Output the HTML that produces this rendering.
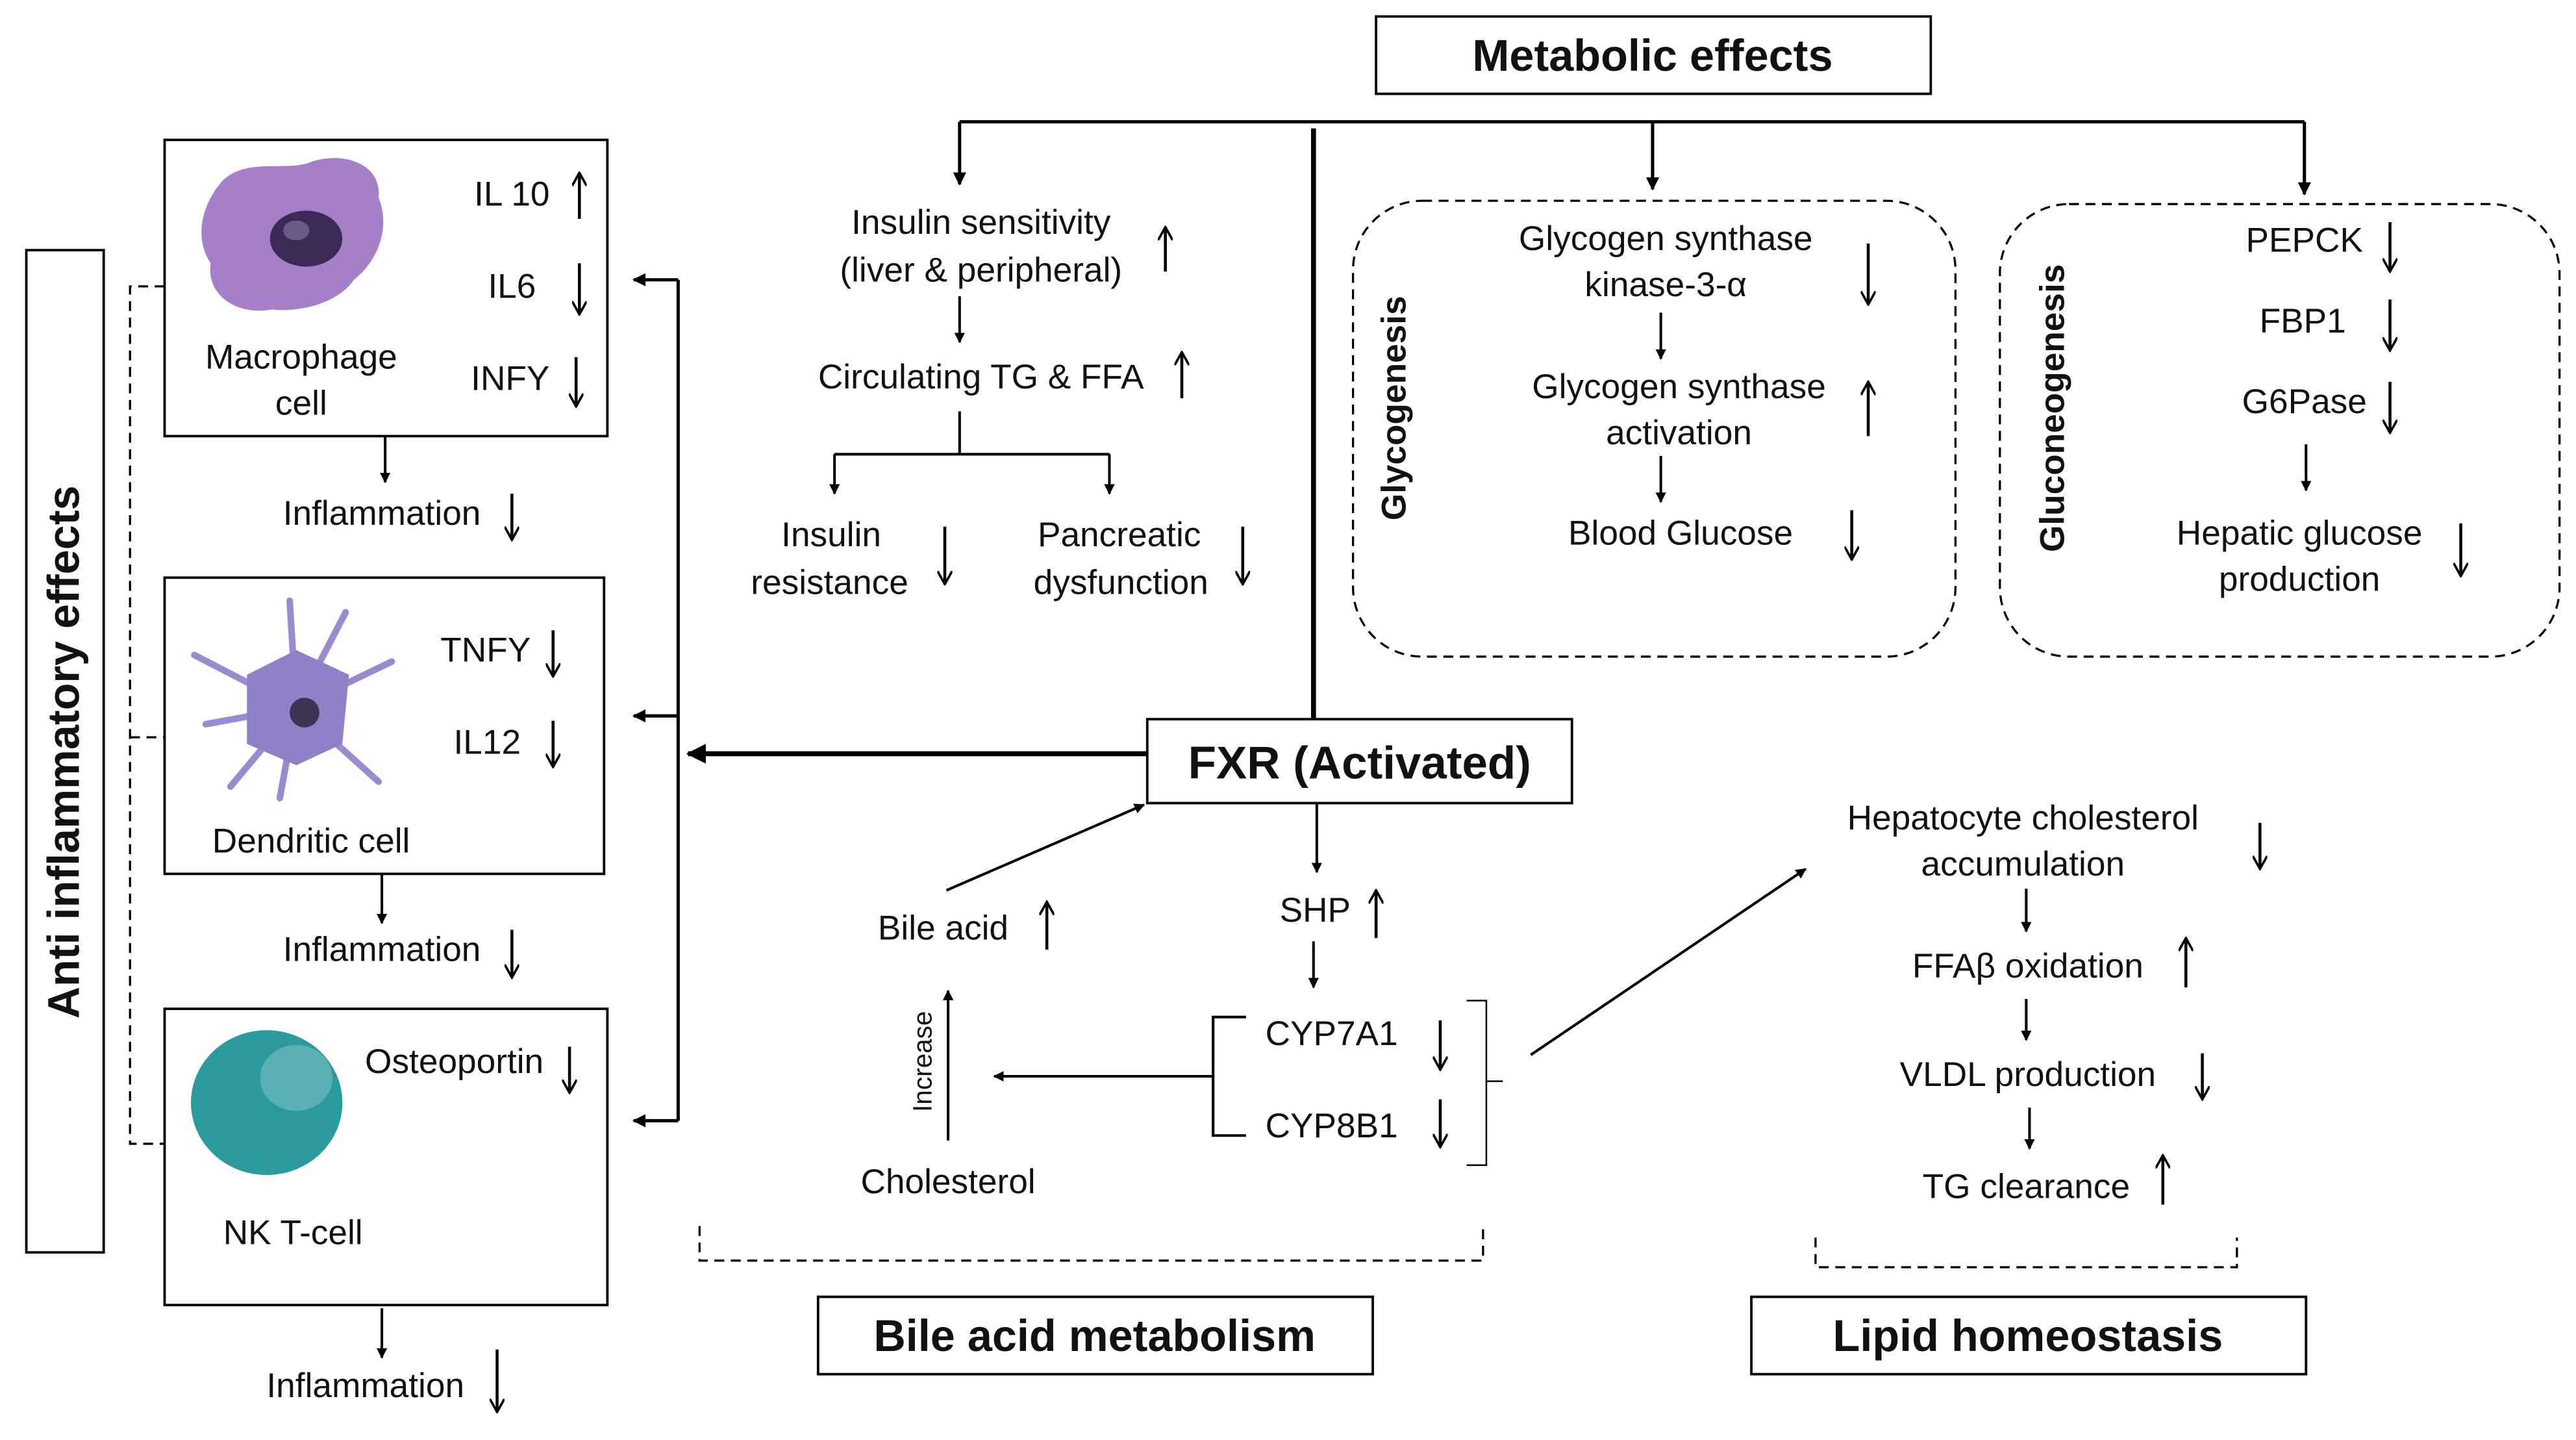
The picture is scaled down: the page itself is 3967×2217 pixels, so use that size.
<!DOCTYPE html>
<html><head><meta charset="utf-8"><style>html,body{margin:0;padding:0;background:#fff;}svg{display:block}</style></head>
<body>
<svg width="3967" height="2217" viewBox="0 0 1565 875" preserveAspectRatio="none" xmlns="http://www.w3.org/2000/svg" font-family="'Liberation Sans', sans-serif">
<defs>
<marker id="a" viewBox="0 0 10 10" refX="9" refY="5" markerWidth="4" markerHeight="4" orient="auto-start-reverse"><path d="M0,0 L10,5 L0,10 z" fill="#000"/></marker>
<marker id="v" viewBox="0 0 10 10" refX="9" refY="5" markerWidth="5" markerHeight="5" orient="auto"><path d="M0,0 L9,5 L0,10" fill="none" stroke="#000" stroke-width="1.6"/></marker>
</defs>
<rect width="1565" height="875" fill="#fff"/>
<g fill="none" stroke="#000" stroke-width="1.5">
<!-- top boxes -->
<rect x="836" y="10" width="337" height="47"/>
<rect x="697" y="437" width="258" height="51"/>
<rect x="497" y="788" width="337" height="47"/>
<rect x="1064" y="788" width="337" height="47"/>
<rect x="16" y="152" width="47" height="609"/>
<rect x="100" y="85" width="269" height="180"/>
<rect x="100" y="351" width="267" height="180"/>
<rect x="100" y="613" width="269" height="180"/>
</g>
<g fill="none" stroke="#000" stroke-width="1.3" stroke-dasharray="6,4">
<rect x="822" y="122" width="366" height="277" rx="42"/>
<rect x="1215" y="124" width="340" height="275" rx="42"/>
<path d="M100,174 H79 V695 H100 M79,448 H100"/>
<path d="M425,745 V766 H901 V745"/>
<path d="M1103,752 V770 H1359 V752"/>
</g>
<!-- connectors -->
<g fill="none" stroke="#000" stroke-width="2">
<path d="M583,74 H1400"/>
<path d="M798,78 V437" stroke-width="3"/>
<path d="M583,74 V112" marker-end="url(#a)"/>
<path d="M1004,74 V115" marker-end="url(#a)"/>
<path d="M1400,74 V118" marker-end="url(#a)"/>
<path d="M697,458 H418" stroke-width="3" marker-end="url(#a)"/>
<path d="M412,170 V681"/>
<path d="M412,170 H385" marker-end="url(#a)"/>
<path d="M412,435 H385" marker-end="url(#a)"/>
<path d="M412,681 H385" marker-end="url(#a)"/>
</g>
<g fill="none" stroke="#000" stroke-width="1.6">
<path d="M583,180 V208" marker-end="url(#a)"/>
<path d="M583,250 V276 M507,276 H674"/>
<path d="M507,276 V300" marker-end="url(#a)"/>
<path d="M674,276 V300" marker-end="url(#a)"/>
<path d="M1009,190 V218" marker-end="url(#a)"/>
<path d="M1009,277 V305" marker-end="url(#a)"/>
<path d="M1401,270 V298" marker-end="url(#a)"/>
<path d="M234,265 V293" marker-end="url(#a)"/>
<path d="M232,531 V561" marker-end="url(#a)"/>
<path d="M232,795 V825" marker-end="url(#a)"/>
<path d="M575,541 L695,489" marker-end="url(#a)"/>
<path d="M800,488 V530" marker-end="url(#a)"/>
<path d="M798,572 V600" marker-end="url(#a)"/>
<path d="M576,693 V602" marker-end="url(#a)"/>
<path d="M737,654 H604" marker-end="url(#a)"/>
<path d="M757,618 H737 V690 H757"/>
<path d="M891,608 H903 V708 H891 M903,657 H913" stroke-width="1"/>
<path d="M930,641 L1097,528" marker-end="url(#a)"/>
<path d="M1231,540 V566" marker-end="url(#a)"/>
<path d="M1231,607 V632" marker-end="url(#a)"/>
<path d="M1233,673 V698" marker-end="url(#a)"/>
</g>
<!-- up/down indicators -->
<g fill="none" stroke="#000" stroke-width="1.8">
<path d="M708,165 V138" marker-end="url(#v)"/>
<path d="M718,242 V214" marker-end="url(#v)"/>
<path d="M574,320 V355" marker-end="url(#v)"/>
<path d="M755,320 V355" marker-end="url(#v)"/>
<path d="M1135,148 V185" marker-end="url(#v)"/>
<path d="M1135,265 V232" marker-end="url(#v)"/>
<path d="M1125,310 V340" marker-end="url(#v)"/>
<path d="M1452,135 V165" marker-end="url(#v)"/>
<path d="M1452,182 V213" marker-end="url(#v)"/>
<path d="M1452,232 V263" marker-end="url(#v)"/>
<path d="M1495,318 V350" marker-end="url(#v)"/>
<path d="M352,133 V105" marker-end="url(#v)"/>
<path d="M352,160 V191" marker-end="url(#v)"/>
<path d="M350,217 V247" marker-end="url(#v)"/>
<path d="M311,300 V328" marker-end="url(#v)"/>
<path d="M336,383 V411" marker-end="url(#v)"/>
<path d="M336,438 V466" marker-end="url(#v)"/>
<path d="M311,565 V594" marker-end="url(#v)"/>
<path d="M346,636 V664" marker-end="url(#v)"/>
<path d="M302,820 V858" marker-end="url(#v)"/>
<path d="M636,577 V548" marker-end="url(#v)"/>
<path d="M836,570 V541" marker-end="url(#v)"/>
<path d="M875,620 V650" marker-end="url(#v)"/>
<path d="M875,668 V697" marker-end="url(#v)"/>
<path d="M1373,500 V528" marker-end="url(#v)"/>
<path d="M1328,600 V570" marker-end="url(#v)"/>
<path d="M1338,640 V668" marker-end="url(#v)"/>
<path d="M1314,732 V702" marker-end="url(#v)"/>
</g>
<!-- cells -->
<g>
<path d="M135,110 C150,95 175,105 190,98 C210,92 232,100 230,120 C238,140 228,160 215,170 C205,185 180,190 165,188 C145,192 125,180 128,160 C118,145 122,125 135,110 Z" fill="#a57fc8"/>
<ellipse cx="186" cy="145" rx="22" ry="17" fill="#3b2a55"/>
<ellipse cx="180" cy="140" rx="8" ry="6" fill="#6b5a8a"/>
<g stroke="#9b8ad0" stroke-width="4" fill="none" stroke-linecap="round">
<path d="M180,430 L118,398 M180,430 L140,478 M180,430 L176,365 M180,430 L238,402 M180,430 L230,475 M180,430 L210,372 M180,430 L125,440 M180,430 L170,485"/>
</g>
<path d="M150,410 L180,395 L212,410 L208,452 L180,465 L150,452 Z" fill="#9080c8"/>
<circle cx="185" cy="433" r="9" fill="#3e3450"/>
<ellipse cx="162" cy="670" rx="46" ry="44" fill="#2a9a9e"/>
<ellipse cx="180" cy="655" rx="22" ry="20" fill="#7cc0c4" opacity="0.6"/>
</g>
<!-- text -->
<g font-size="21" fill="#111" text-anchor="middle">
<text x="1004" y="43" font-size="27" font-weight="bold">Metabolic effects</text>
<text x="826" y="473" font-size="28" font-weight="bold">FXR (Activated)</text>
<text x="665" y="821" font-size="27" font-weight="bold">Bile acid metabolism</text>
<text x="1232" y="821" font-size="27" font-weight="bold">Lipid homeostasis</text>
<text transform="translate(48,457) rotate(-90)" font-size="27" font-weight="bold">Anti inflammatory effects</text>
<text transform="translate(854,248) rotate(-90)" font-size="21" font-weight="bold">Glycogenesis</text>
<text transform="translate(1254,248) rotate(-90)" font-size="21" font-weight="bold">Gluconeogenesis</text>
<text transform="translate(566,645) rotate(-90)" font-size="16">Increase</text>
<text x="596" y="142">Insulin sensitivity</text>
<text x="596" y="171">(liver &amp; peripheral)</text>
<text x="596" y="236">Circulating TG &amp; FFA</text>
<text x="505" y="332">Insulin</text>
<text x="504" y="361">resistance</text>
<text x="680" y="332">Pancreatic</text>
<text x="681" y="361">dysfunction</text>
<text x="1012" y="152">Glycogen synthase</text>
<text x="1012" y="180">kinase-3-α</text>
<text x="1020" y="242">Glycogen synthase</text>
<text x="1020" y="270">activation</text>
<text x="1021" y="331">Blood Glucose</text>
<text x="1400" y="153">PEPCK</text>
<text x="1399" y="202">FBP1</text>
<text x="1400" y="251">G6Pase</text>
<text x="1397" y="331">Hepatic glucose</text>
<text x="1397" y="359">production</text>
<text x="311" y="125">IL 10</text>
<text x="311" y="181">IL6</text>
<text x="310" y="237">INFY</text>
<text x="183" y="224">Macrophage</text>
<text x="183" y="252">cell</text>
<text x="232" y="319">Inflammation</text>
<text x="295" y="402">TNFY</text>
<text x="296" y="458">IL12</text>
<text x="189" y="518">Dendritic cell</text>
<text x="232" y="584">Inflammation</text>
<text x="276" y="652">Osteoportin</text>
<text x="178" y="756">NK T-cell</text>
<text x="222" y="849">Inflammation</text>
<text x="573" y="571">Bile acid</text>
<text x="799" y="560">SHP</text>
<text x="809" y="635">CYP7A1</text>
<text x="809" y="691">CYP8B1</text>
<text x="576" y="725">Cholesterol</text>
<text x="1229" y="504">Hepatocyte cholesterol</text>
<text x="1229" y="532">accumulation</text>
<text x="1232" y="594">FFAβ oxidation</text>
<text x="1232" y="660">VLDL production</text>
<text x="1231" y="728">TG clearance</text>
</g>
</svg>
</body></html>
